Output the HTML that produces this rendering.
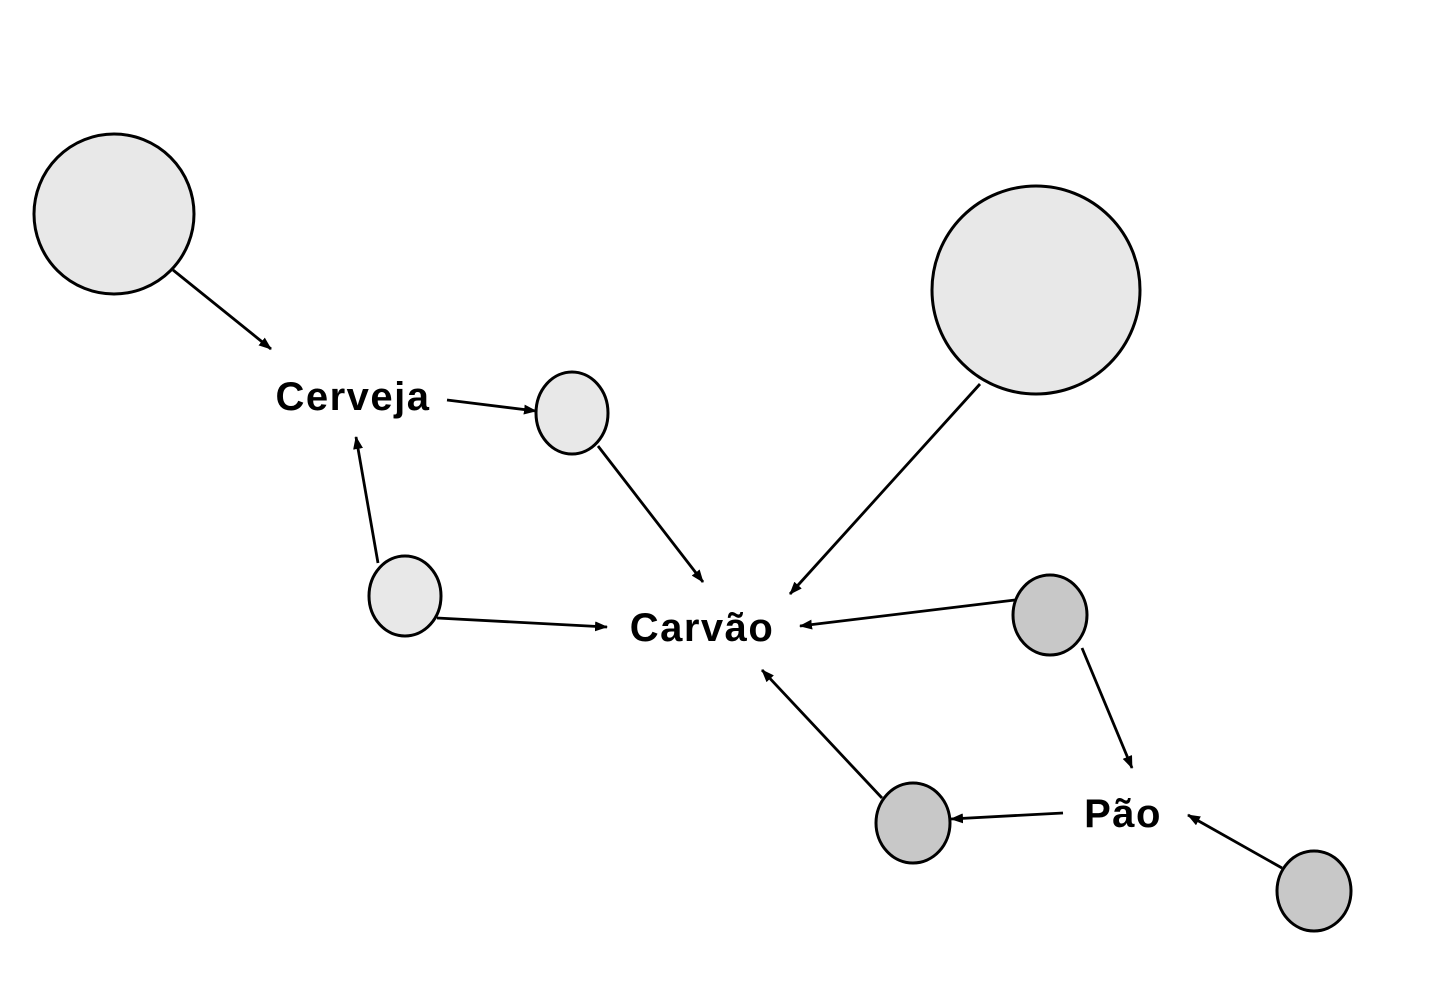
<!DOCTYPE html>
<html><head><meta charset="utf-8"><style>
html,body{margin:0;padding:0;background:#fff;}
svg{display:block;}
text{font-family:"Liberation Sans",sans-serif;font-weight:bold;font-size:40px;letter-spacing:1.5px;fill:#000;}
</style></head><body>
<svg width="1448" height="1001" viewBox="0 0 1448 1001" xmlns="http://www.w3.org/2000/svg">
<defs>
<marker id="a" markerWidth="13" markerHeight="10" refX="12" refY="5" orient="auto" markerUnits="userSpaceOnUse">
<path d="M0,0 L13,5 L0,10 Z" fill="#000"/>
</marker>
</defs>
<g stroke="#000" stroke-width="3">
<circle cx="114" cy="214" r="80" fill="#e8e8e8"/>
<circle cx="1036" cy="290" r="104" fill="#e8e8e8"/>
<ellipse cx="572" cy="413" rx="36" ry="41" fill="#e8e8e8"/>
<ellipse cx="405" cy="596" rx="36" ry="40" fill="#e8e8e8"/>
<ellipse cx="1050" cy="615" rx="37" ry="40" fill="#c8c8c8"/>
<ellipse cx="913" cy="823" rx="37" ry="40" fill="#c8c8c8"/>
<ellipse cx="1314" cy="891" rx="37" ry="40" fill="#c8c8c8"/>
</g>
<g stroke="#000" stroke-width="2.8" marker-end="url(#a)">
<line x1="173" y1="270" x2="271" y2="349"/>
<line x1="447" y1="400" x2="536" y2="411"/>
<line x1="598" y1="446" x2="703" y2="582"/>
<line x1="378" y1="563" x2="356" y2="437"/>
<line x1="437" y1="618" x2="607" y2="627"/>
<line x1="980" y1="384" x2="790" y2="594"/>
<line x1="1015" y1="600" x2="800" y2="626"/>
<line x1="1082" y1="648" x2="1132" y2="768"/>
<line x1="882" y1="798" x2="762" y2="670"/>
<line x1="1063" y1="813" x2="951" y2="819"/>
<line x1="1282" y1="868" x2="1188" y2="815"/>
</g>
<text x="353" y="410" text-anchor="middle">Cerveja</text>
<text x="702" y="641" text-anchor="middle">Carvão</text>
<text x="1123" y="827" text-anchor="middle">Pão</text>
</svg>
</body></html>
